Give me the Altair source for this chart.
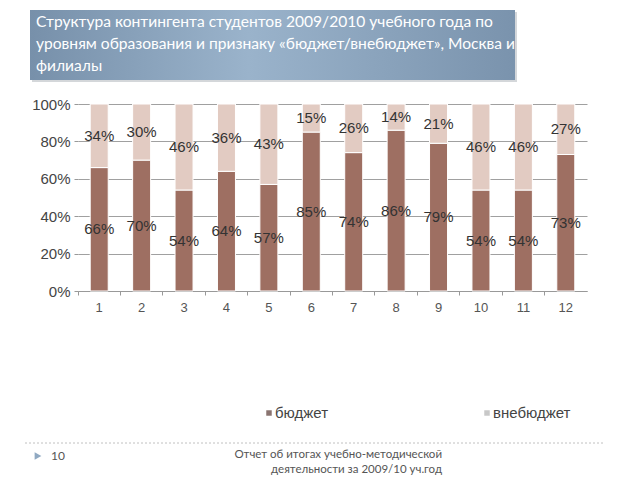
import altair as alt
import pandas as pd

categories = [str(i) for i in range(1, 13)]
budget = [66, 70, 54, 64, 57, 85, 74, 86, 79, 54, 54, 73]
offbudget = [34, 30, 46, 36, 43, 15, 26, 14, 21, 46, 46, 27]
series_names = ["бюджет", "внебюджет"]
series_colors = ["#9e6f62", "#e2cbc2"]
title_lines = [
    "Структура контингента студентов 2009/2010 учебного года по",
    "уровням образования и признаку «бюджет/внебюджет»,  Москва и",
    "филиалы",
]
footer_lines = ["Отчет об итогах учебно-методической", "деятельности за 2009/10 уч.год"]
y_ticks = [0, 0.2, 0.4, 0.6, 0.8, 1.0]

rows = []
for i, c in enumerate(categories):
    rows.append({"cat": c, "series": series_names[0], "v": budget[i] / 100, "ord": 0})
    rows.append({"cat": c, "series": series_names[1], "v": offbudget[i] / 100, "ord": 1})
df = pd.DataFrame(rows)

W, H = 509, 187

base = alt.Chart(df).transform_stack(
    stack="v", as_=["y0", "y1"], groupby=["cat"], sort=[alt.SortField("ord", order="ascending")]
).transform_calculate(
    ymid="(datum.y0 + datum.y1) / 2",
    lbl="round(datum.v * 100) + '%'",
)

xaxis = alt.Axis(
    title=None, labelAngle=0, labelFontSize=13, labelColor="#555555",
    labelFont="Liberation Sans", domainColor="#999999", tickColor="#999999",
    tickSize=4, bandPosition=0, grid=False, labelPadding=6,
)
yaxis = alt.Axis(
    title=None, values=y_ticks, tickCount=12, format=".0%", labelFontSize=15,
    labelColor="#444444", labelFont="Liberation Sans", domain=False,
    ticks=True, tickSize=4, tickColor="#999999", gridColor="#a0a0a0",
    labelPadding=4, labelOverlap=False, labelBound=False, labelFlush=False,
)
xscale = alt.Scale(paddingInner=0.0, paddingOuter=0.0)
yscale = alt.Scale(domain=[0, 1], nice=False)

bars = base.mark_bar(size=18, stroke="white", strokeWidth=1).encode(
    x=alt.X("cat:N", sort=categories, scale=xscale, axis=xaxis),
    y=alt.Y("y0:Q", scale=yscale, axis=yaxis),
    y2="y1:Q",
    color=alt.Color("series:N", scale=alt.Scale(domain=series_names, range=series_colors), legend=None),
)

labels = base.mark_text(fontSize=15, font="Liberation Sans", color="#333333").encode(
    x=alt.X("cat:N", sort=categories, scale=xscale, axis=xaxis),
    y=alt.Y("ymid:Q", scale=yscale, axis=yaxis),
    text="lbl:N",
)

one = pd.DataFrame({"a": [0]})

shadow = alt.Chart(one).mark_rect(color="#b8bcc2", opacity=0.6).encode(
    x=alt.value(-46), x2=alt.value(439), y=alt.value(-92), y2=alt.value(-22)
)
title_box = alt.Chart(one).mark_rect(
    color=alt.Gradient(
        gradient="linear",
        stops=[
            alt.GradientStop(color="#7790aa", offset=0),
            alt.GradientStop(color="#9ab3cb", offset=0.45),
            alt.GradientStop(color="#7a93ad", offset=1),
        ],
        x1=0, x2=1, y1=0, y2=0,
    )
).encode(x=alt.value(-48), x2=alt.value(437), y=alt.value(-94), y2=alt.value(-24))

title_layers = []
for i, t in enumerate(title_lines):
    title_layers.append(
        alt.Chart(one).mark_text(
            align="left", baseline="middle", fontSize=15.6, font="Lato", color="white"
        ).encode(x=alt.value(-42), y=alt.value([-82, -60, -38][i]), text=alt.value(t))
    )

leg_layers = []
leg_x = [191, 409]
leg_cols = ["#8a7470", "#c8c8c8"]
for i, name in enumerate(series_names):
    leg_layers.append(
        alt.Chart(one).mark_square(size=30, opacity=1, color=leg_cols[i]).encode(
            x=alt.value(leg_x[i]), y=alt.value(309)
        )
    )
    leg_layers.append(
        alt.Chart(one).mark_text(
            align="left", baseline="middle", fontSize=15, font="Liberation Sans", color="#444444"
        ).encode(x=alt.value(leg_x[i] + 6), y=alt.value(309), text=alt.value(name))
    )

dash = alt.Chart(one).mark_rule(color="#c0c0c0", strokeDash=[2, 2], strokeWidth=1).encode(
    x=alt.value(-53), x2=alt.value(527), y=alt.value(339)
)
tri = alt.Chart(one).mark_point(shape="triangle-right", filled=True, size=60, color="#90a9c2", opacity=1).encode(
    x=alt.value(-40), y=alt.value(352)
)
pagenum = alt.Chart(one).mark_text(
    align="left", baseline="middle", fontSize=12, font="Lato", color="#555555"
).encode(x=alt.value(-27), y=alt.value(352), text=alt.value("10"))

footer_layers = []
for i, t in enumerate(footer_lines):
    footer_layers.append(
        alt.Chart(one).mark_text(
            align="right", baseline="middle", fontSize=11.5, font="Lato", color="#555555"
        ).encode(x=alt.value(364), y=alt.value([351, 366][i]), text=alt.value(t))
    )

chart = alt.layer(
    bars, labels, shadow, title_box, *title_layers, *leg_layers, dash, tri, pagenum, *footer_layers
).properties(
    width=W, height=H,
    autosize=alt.AutoSizeParams(type="none"),
    padding={"left": 78, "top": 104, "right": 53, "bottom": 189},
    background="white",
).configure_view(stroke=None)

chart.save("out.html", embed_options={"renderer": "svg", "actions": False})
